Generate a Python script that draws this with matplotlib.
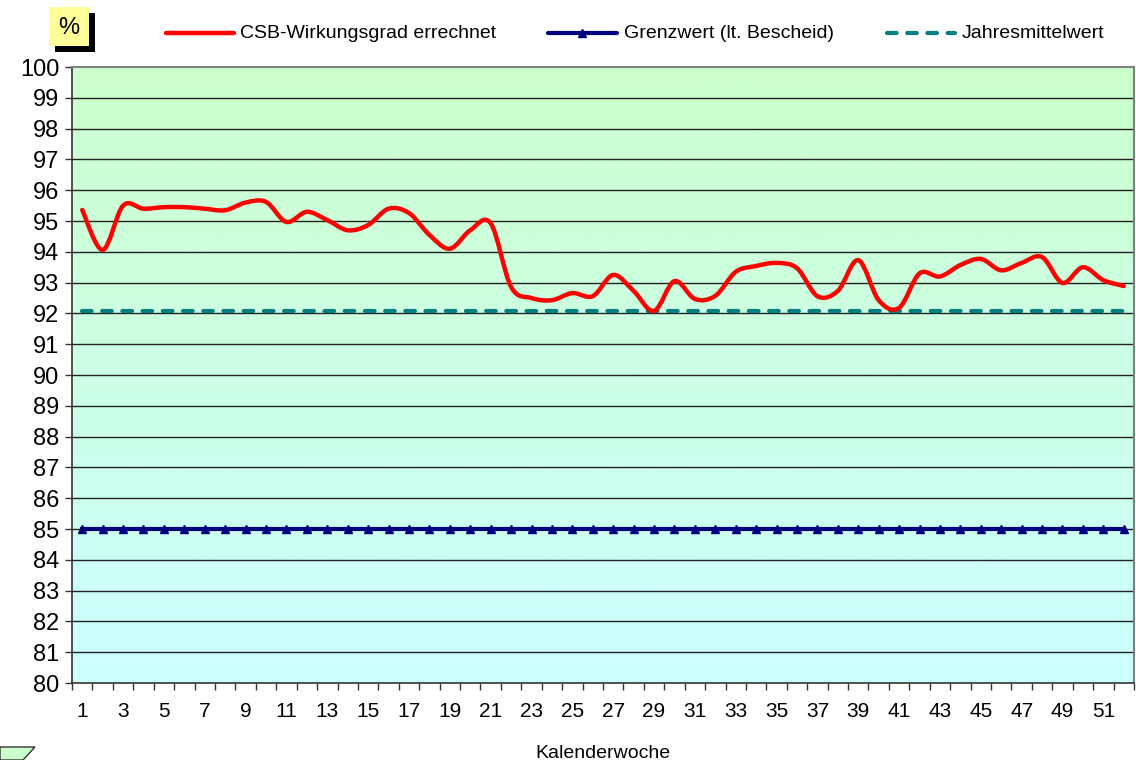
"""CSB-Wirkungsgrad je Kalenderwoche mit Grenzwert und Jahresmittelwert."""

import matplotlib

matplotlib.use("Agg")
import matplotlib.pyplot as plt
import numpy as np
from matplotlib.lines import Line2D
from matplotlib.patches import PathPatch, Polygon, Rectangle
from matplotlib.path import Path

plt.rcParams["font.family"] = ["Liberation Sans", "DejaVu Sans"]

weeks = list(range(1, 53))
csb_efficiency = [
    95.36, 94.06, 95.50, 95.40, 95.45, 95.45, 95.40, 95.35, 95.60, 95.62,
    94.97, 95.30, 95.03, 94.70, 94.87, 95.40, 95.26, 94.55, 94.10, 94.70,
    94.93, 92.86, 92.50, 92.43, 92.66, 92.56, 93.25, 92.73, 92.08, 93.05,
    92.47, 92.57, 93.35, 93.54, 93.64, 93.47, 92.56, 92.73, 93.73, 92.43,
    92.18, 93.30, 93.20, 93.57, 93.77, 93.40, 93.64, 93.83, 92.99, 93.50,
    93.08, 92.89,
]
limit_value = 85.0
annual_mean = 92.07
legend_labels = ["CSB-Wirkungsgrad errechnet", "Grenzwert (lt. Bescheid)", "Jahresmittelwert"]
y_ticks = list(range(80, 101))
x_tick_labels = [str(w) for w in weeks if w % 2 == 1]

RED = "#FF0000"
NAVY = "#000080"
TEAL = "#008080"
W, H = 1136, 760


def _smooth_path(x, y):
    # Excel-style smoothed line: cubic Bezier segments through every point
    pts = np.column_stack([x, y]).astype(float)
    n = len(pts)
    verts = [pts[0]]
    codes = [Path.MOVETO]
    for i in range(n - 1):
        p0 = pts[i - 1] if i > 0 else pts[i]
        p1 = pts[i]
        p2 = pts[i + 1]
        p3 = pts[i + 2] if i + 2 < n else pts[i + 1]
        c1 = p1 + (p2 - p0) / 6.0
        c2 = p2 - (p3 - p1) / 6.0
        verts.extend([c1, c2, p2])
        codes.extend([Path.CURVE4] * 3)
    return Path(verts, codes)


def _fx(px):
    return px / W


def _fy(py):
    return 1 - py / H


def main():
    fig = plt.figure(figsize=(11.36, 7.6), dpi=100)
    ax = fig.add_axes([0.0634, 0.1013, 0.9348, 0.8105])

    # green -> cyan background gradient
    grad = np.linspace(0, 1, 256)[:, None]
    top = np.array([0xCC, 0xFF, 0xCC]) / 255
    bottom = np.array([0xCC, 0xFF, 0xFF]) / 255
    img = top[None, None, :] * (1 - grad[..., None]) + bottom[None, None, :] * grad[..., None]
    ax.imshow(img, extent=[0.5, 52.5, 80, 100], aspect="auto", zorder=0, origin="upper")

    for v in y_ticks[1:-1]:
        ax.axhline(v, color="#222222", linewidth=1.0, zorder=1)

    limit_style = dict(color=NAVY, linewidth=3.0, marker="^", markersize=6)
    mean_style = dict(color=TEAL, linewidth=3.0, linestyle=(0, (2.3, 2.55)), dash_capstyle="round")
    ax.plot(weeks, [limit_value] * len(weeks), zorder=3, **limit_style)
    ax.plot(weeks, [annual_mean] * len(weeks), zorder=3, **mean_style)
    ax.add_patch(
        PathPatch(
            _smooth_path(weeks, csb_efficiency),
            facecolor="none",
            edgecolor=RED,
            linewidth=3.2,
            capstyle="round",
            joinstyle="round",
            zorder=4,
        )
    )

    ax.set_xlim(0.5, 52.5)
    ax.set_ylim(80, 100)
    ax.set_yticks(y_ticks)
    ax.set_yticklabels([str(v) for v in y_ticks], fontsize=17)
    ax.set_xticks([w for w in weeks if w % 2 == 1])
    ax.set_xticklabels(x_tick_labels, fontsize=15)
    ax.set_xticks(np.arange(0.5, 53.0, 1.0), minor=True)
    ax.tick_params(axis="x", which="major", length=0, pad=14)
    ax.tick_params(axis="x", which="minor", length=5, width=1, color="#333333")
    ax.tick_params(axis="y", length=5, width=1, color="#333333", pad=4)
    ax.set_xlabel("Kalenderwoche", fontsize=14, labelpad=17)

    for side in ("left", "bottom"):
        ax.spines[side].set_color("#333333")
        ax.spines[side].set_linewidth(1.2)
    for side in ("top", "right"):
        ax.spines[side].set_color("#808080")
        ax.spines[side].set_linewidth(1.5)

    # legend row, placed like the original
    legend_y = _fy(33)
    handle_spans = [(166, 234), (548, 617), (887, 955)]
    text_x = [240, 624, 962]
    styles = [
        dict(color=RED, linewidth=3.2, solid_capstyle="round"),
        dict(color=NAVY, linewidth=3.0, solid_capstyle="round"),
        dict(color=TEAL, linewidth=3.0, linestyle=(0, (2.3, 2.55)), dash_capstyle="round"),
    ]
    for (x0, x1), tx, style, label in zip(handle_spans, text_x, styles, legend_labels):
        fig.add_artist(Line2D([_fx(x0), _fx(x1)], [legend_y, legend_y],
                              transform=fig.transFigure, **style))
        fig.text(_fx(tx), legend_y, label, fontsize=14, ha="left", va="center")
    fig.add_artist(Line2D([_fx(582)], [legend_y], transform=fig.transFigure,
                          color=NAVY, marker="^", markersize=6, linestyle="none"))

    # "%" label box with shadow
    fig.add_artist(Rectangle((_fx(55), _fy(52)), _fx(40), 39 / H, transform=fig.transFigure,
                             facecolor="black", edgecolor="none"))
    fig.add_artist(Rectangle((_fx(49), _fy(46)), _fx(40), 39 / H, transform=fig.transFigure,
                             facecolor="#FFFF99", edgecolor="none"))
    fig.text(_fx(69), _fy(28), "%", fontsize=17, ha="center", va="center")

    # cut-off text box in the lower left corner
    fig.add_artist(Polygon(
        [(0, _fy(747)), (_fx(35), _fy(747)), (_fx(23), 0), (0, 0)],
        closed=True, transform=fig.transFigure,
        facecolor="#CCFFCC", edgecolor="#333333", linewidth=1,
    ))

    fig.savefig("out.png", dpi=100)
    plt.close(fig)


if __name__ == "__main__":
    main()
